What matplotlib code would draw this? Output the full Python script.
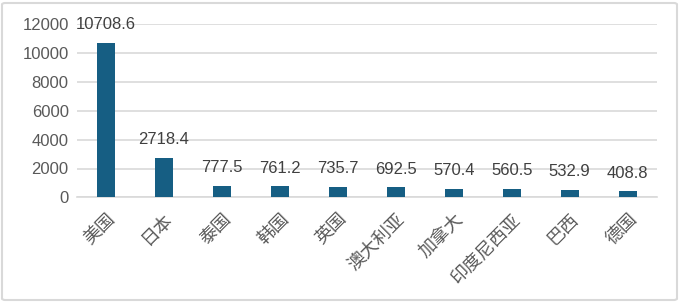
import matplotlib
matplotlib.use("Agg")
import matplotlib.pyplot as plt
from matplotlib.patches import FancyBboxPatch

categories = ["美国", "日本", "泰国", "韩国", "英国", "澳大利亚", "加拿大", "印度尼西亚", "巴西", "德国"]
values = [10708.6, 2718.4, 777.5, 761.2, 735.7, 692.5, 570.4, 560.5, 532.9, 408.8]
yticks = [0, 2000, 4000, 6000, 8000, 10000, 12000]

plt.rcParams['font.family'] = ['Liberation Sans', 'Noto Sans CJK SC', 'DejaVu Sans']

fig = plt.figure(figsize=(6.8, 3.02), dpi=100)
ax = fig.add_axes([77/680, 1-197.4/302, (656.7-77)/680, (197.4-24)/302])

x = range(len(categories))
bars = ax.bar(x, values, width=0.31, color="#165e83", zorder=3)
ax.set_xlim(-0.5, len(categories)-0.5)
ax.set_ylim(0, 12000)
ax.set_yticks(yticks)
ax.set_yticklabels([str(v) for v in yticks], fontsize=12, color="#595959")
ax.grid(axis='y', color="#d9d9d9", linewidth=1.2, zorder=0)
for s in ['top', 'right', 'left']:
    ax.spines[s].set_visible(False)
ax.spines['bottom'].set_color("#d9d9d9")
ax.spines['bottom'].set_linewidth(1.2)
ax.tick_params(axis='both', length=0)
ax.tick_params(axis='y', pad=6)

ax.set_xticks(list(x))
ax.set_xticklabels(categories, rotation=45, ha='right', va='top', rotation_mode='anchor',
                   fontsize=13, color="#595959",
                   family=['Noto Sans CJK SC', 'DejaVu Sans'])
ax.tick_params(axis='x', pad=9)

for xi, v in zip(x, values):
    ax.annotate(f"{v}", (xi, v), xytext=(0, 10), textcoords='offset points',
                ha='center', va='baseline', fontsize=12, color="#404040")

border = FancyBboxPatch((2/680, 2/302), 675/680, 297/302, boxstyle="round,pad=0,rounding_size=0.005",
                        transform=fig.transFigure, fill=False, edgecolor="#d9d9d9", linewidth=1.5)
fig.patches.append(border)

fig.savefig("out.png", dpi=100)
